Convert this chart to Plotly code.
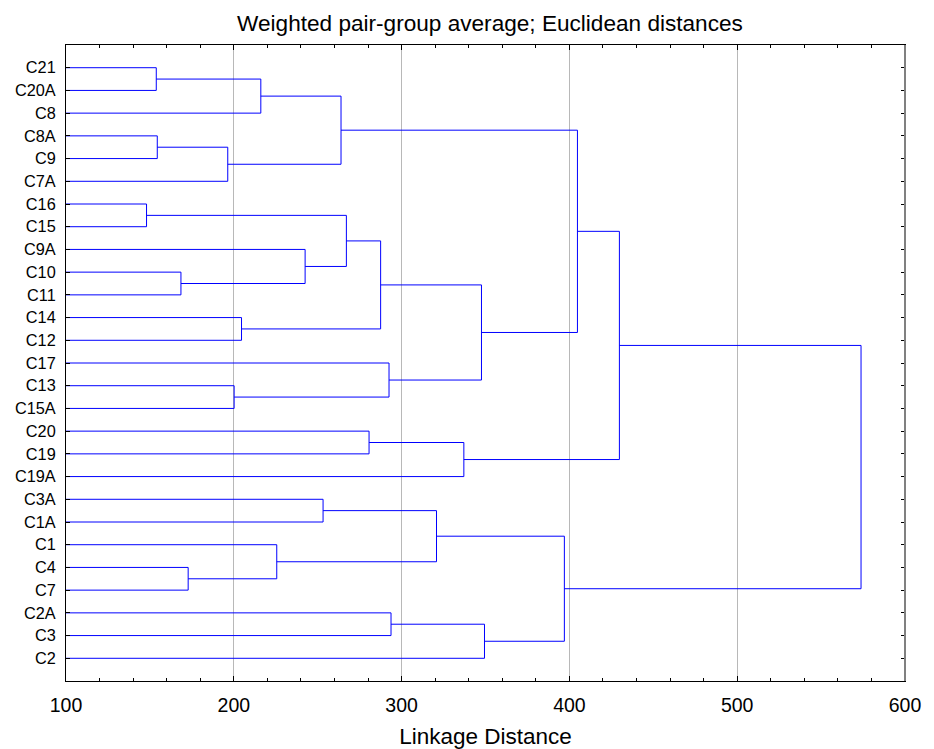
import plotly.graph_objects as go

# Leaf labels, top to bottom
labels = ["C21", "C20A", "C8", "C8A", "C9", "C7A", "C16", "C15", "C9A", "C10",
          "C11", "C14", "C12", "C17", "C13", "C15A", "C20", "C19", "C19A", "C3A",
          "C1A", "C1", "C4", "C7", "C2A", "C3", "C2"]

# Merges: cluster ids (leaves 0..26, merge k -> 27+k), linkage heights
merge_left = [0, 27, 3, 29, 28, 6, 9, 8, 32, 11, 35, 14, 13, 37, 31, 16, 42, 41,
              19, 22, 21, 45, 24, 49, 48, 44]
merge_right = [1, 2, 4, 5, 30, 7, 10, 33, 34, 12, 36, 15, 38, 39, 40, 17, 18, 43,
               20, 23, 46, 47, 25, 26, 50, 51]
merge_height = [153.8, 216.1, 154.4, 196.4, 263.9, 148.0, 168.5, 242.5, 267.1,
                204.6, 287.5, 200.2, 292.5, 347.6, 404.8, 280.6, 337.1, 429.8,
                253.2, 172.8, 225.6, 320.8, 293.7, 349.4, 397.0, 573.8]

x_range = [100, 600]
x_ticks = [100, 200, 300, 400, 500, 600]

n = len(labels)
ypos = {i: float(i) for i in range(n)}
hpos = {i: x_range[0] for i in range(n)}

xs, ys = [], []
for k, (a, b, h) in enumerate(zip(merge_left, merge_right, merge_height)):
    cid = n + k
    ya, yb = ypos[a], ypos[b]
    xs += [hpos[a], h, h, hpos[b], None]
    ys += [ya, ya, yb, yb, None]
    ypos[cid] = (ya + yb) / 2
    hpos[cid] = h

fig = go.Figure()
fig.add_trace(go.Scatter(x=xs, y=ys, mode="lines",
                         line=dict(color="#0000ff", width=1),
                         hoverinfo="skip", showlegend=False))

font_family = "Liberation Sans, Arial, sans-serif"

fig.update_layout(
    width=926, height=741,
    margin=dict(l=58, r=29, t=37, b=68),
    paper_bgcolor="white", plot_bgcolor="white",
    font=dict(family=font_family, color="black"),
    title=dict(text="Weighted pair-group average; Euclidean distances",
               x=0.5205, xanchor="center", y=0.98, yanchor="middle",
               font=dict(size=22.6, family=font_family)),
    showlegend=False,
)

fig.update_xaxes(
    automargin=False,
    range=x_range, tickvals=x_ticks, ticks="inside", ticklen=5, tickcolor="black",
    tickfont=dict(size=19.5), ticklabelstandoff=7,
    showgrid=True, gridcolor="#b8b8b8", gridwidth=1,
    zeroline=False, showline=True, linecolor="black", linewidth=1, mirror="ticks",
    minor=dict(dtick=20, tick0=100, ticks="inside", ticklen=3, tickcolor="black",
               showgrid=False),
    title=dict(text="Linkage Distance", font=dict(size=22.5), standoff=19),
)

fig.update_yaxes(
    automargin=False,
    range=[n, -1], tickvals=list(range(n)), ticktext=labels,
    ticks="inside", ticklen=4, tickcolor="black", tickfont=dict(size=16.3),
    ticklabelstandoff=6,
    showgrid=False, zeroline=False, showline=True, linecolor="black",
    linewidth=1, mirror="ticks",
)

fig.add_shape(type="line", xref="paper", yref="paper", x0=1, x1=1, y0=0, y1=1,
              line=dict(color="#808080", width=2), layer="above")

fig.write_html("out.html")
